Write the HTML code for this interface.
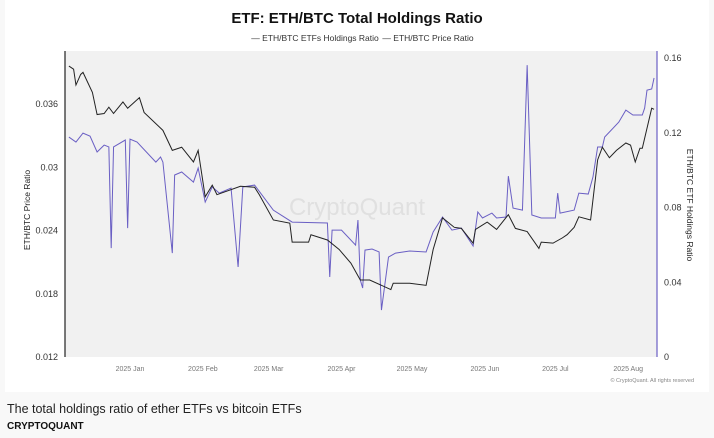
<!DOCTYPE html>
<html><head><meta charset="utf-8"><style>
body{margin:0;width:714px;height:438px;background:#f8f8f8;font-family:"Liberation Sans",sans-serif;overflow:hidden}
#card{position:absolute;left:5px;top:0;width:704px;height:392px;background:#fff}
.cap{position:absolute;left:7px;top:402px;font-size:12.5px;color:#222}
.src{position:absolute;left:7px;top:421px;font-size:10px;font-weight:bold;color:#111}
</style></head><body>
<div id="card"></div>
<svg id="chart" width="714" height="395" style="position:absolute;left:0;top:0"></svg>
<div class="cap">The total holdings ratio of ether ETFs vs bitcoin ETFs</div>
<div class="src">CRYPTOQUANT</div>
<script>
const priceDays=[-26,-24,-23,-21,-20,-16,-14,-11,-9,-7,-3,-1,4,6,14,18,22,27,29,32,35,37,47,53,55,61,68,69,76,77,84,89,94,98,102,111,112,119,126,129,133,138,141,146,147,152,156,161,164,169,174,175,180,184,186,189,191,196,199,201,204,207,211,213,215,217,218,222,223];
const priceVals=[.0396,.0393,.0378,.0388,.0390,.0371,.0350,.0351,.0357,.0351,.0362,.0356,.0366,.0352,.0335,.0316,.0319,.0305,.0316,.0272,.0283,.0274,.0282,.0281,.0274,.0250,.0247,.0229,.0229,.0236,.0231,.0222,.0209,.0193,.0193,.0184,.0190,.0190,.0188,.0222,.0252,.0243,.0242,.0228,.0241,.0248,.0241,.0255,.0242,.0239,.0223,.0229,.0228,.0233,.0236,.0243,.0253,.0250,.0307,.0319,.0309,.0316,.0323,.0321,.0305,.0318,.0318,.0356,.0355];
const etfDays=[-26,-23,-20,-17,-14,-11,-9,-8,-7,-2,-1,0,3,11,13,14,18,19,22,27,29,32,35,38,43,46,48,53,61,69,84,85,86,90,96,97,98,99,100,103,106,107,110,113,119,126,129,133,137,141,146,148,150,154,156,160,161,163,167,169,171,175,181,182,183,189,191,195,197,199,201,202,208,211,214,218,219,220,222,223];
const etfVals=[.1177,.1150,.1198,.1182,.1097,.1134,.1124,.0583,.1124,.1161,.0690,.1166,.1150,.1043,.1070,.1043,.0556,.0974,.0990,.0936,.1011,.0829,.0910,.0877,.0904,.0482,.0910,.0920,.0786,.0722,.0717,.0428,.0679,.0679,.0599,.0733,.0412,.0369,.0572,.0578,.0562,.0251,.0535,.0556,.0567,.0562,.0669,.0749,.0679,.0690,.0594,.0776,.0744,.0770,.0744,.0749,.0968,.0797,.0786,.1562,.0760,.0744,.0744,.0877,.0770,.0786,.0877,.0872,.0963,.1124,.1124,.1177,.1257,.1321,.1295,.1295,.1332,.1428,.1434,.1493];
const leftTicks=[0.012,0.018,0.024,0.03,0.036];
const leftTickLabels=["0.012","0.018","0.024","0.03","0.036"];
const rightTicks=[0,0.04,0.08,0.12,0.16];
const rightTickLabels=["0","0.04","0.08","0.12","0.16"];
const monthDays=[0,31,59,90,120,151,181,212];
const monthLabels=["2025 Jan","2025 Feb","2025 Mar","2025 Apr","2025 May","2025 Jun","2025 Jul","2025 Aug"];

const NS="http://www.w3.org/2000/svg";
const svg=document.getElementById('chart');
const xS=d=>130+d*2.35;
const yL=v=>357-(v-0.012)/0.006*63.25;
const yR=v=>357-v/0.04*74.75;
function mk(tag,attrs,txt){const e=document.createElementNS(NS,tag);for(const k in attrs)e.setAttribute(k,attrs[k]);if(txt!==undefined)e.textContent=txt;svg.appendChild(e);return e;}
let e;
e=mk('rect',{x:65,y:51,width:592,height:306,fill:'#f1f1f1'});


e=mk('text',{x:357,y:23,'text-anchor':'middle','font-size':15,'font-weight':'bold',fill:'#111'},'ETF: ETH/BTC Total Holdings Ratio');


e=mk('text',{x:315,y:41,'text-anchor':'middle','font-size':8.5,fill:'#333'},'— ETH/BTC ETFs Holdings Ratio');


e=mk('text',{x:428,y:41,'text-anchor':'middle','font-size':8.5,fill:'#333'},'— ETH/BTC Price Ratio');


e=mk('text',{x:357,y:215,'text-anchor':'middle','font-size':24,fill:'#e0e0e0'},'CryptoQuant');


leftTicks.forEach((t,i)=>{e=mk('text',{x:58,y:yL(t)+3,'text-anchor':'end','font-size':9,fill:'#333'},leftTickLabels[i]);

});
rightTicks.forEach((t,i)=>{e=mk('text',{x:664,y:yR(t)+3,'font-size':9,fill:'#333'},rightTickLabels[i]);

});
monthDays.forEach((d,i)=>{e=mk('text',{x:xS(d),y:371,'text-anchor':'middle','font-size':7,fill:'#777'},monthLabels[i]);

});
e=mk('text',{x:0,y:0,'text-anchor':'middle','font-size':8.5,fill:'#222',transform:'translate(30,210) rotate(-90)'},'ETH/BTC Price Ratio');


e=mk('text',{x:0,y:0,'text-anchor':'middle','font-size':8.5,fill:'#222',transform:'translate(687,205) rotate(90)'},'ETH/BTC ETF Holdings Ratio');


e=mk('text',{x:694,y:382,'text-anchor':'end','font-size':5.5,fill:'#888'},'© CryptoQuant. All rights reserved');


e=mk('polyline',{points:etfDays.map((d,i)=>xS(d)+','+yR(etfVals[i])).join(' '),fill:'none',stroke:'#6a5fc4','stroke-width':1});


e=mk('polyline',{points:priceDays.map((d,i)=>xS(d)+','+yL(priceVals[i])).join(' '),fill:'none',stroke:'#222','stroke-width':1});


e=mk('line',{x1:65,y1:51,x2:65,y2:357,stroke:'#222','stroke-width':1.2});


e=mk('line',{x1:657,y1:51,x2:657,y2:357,stroke:'#6a5fc4','stroke-width':1.2});


</script>
</body></html>
